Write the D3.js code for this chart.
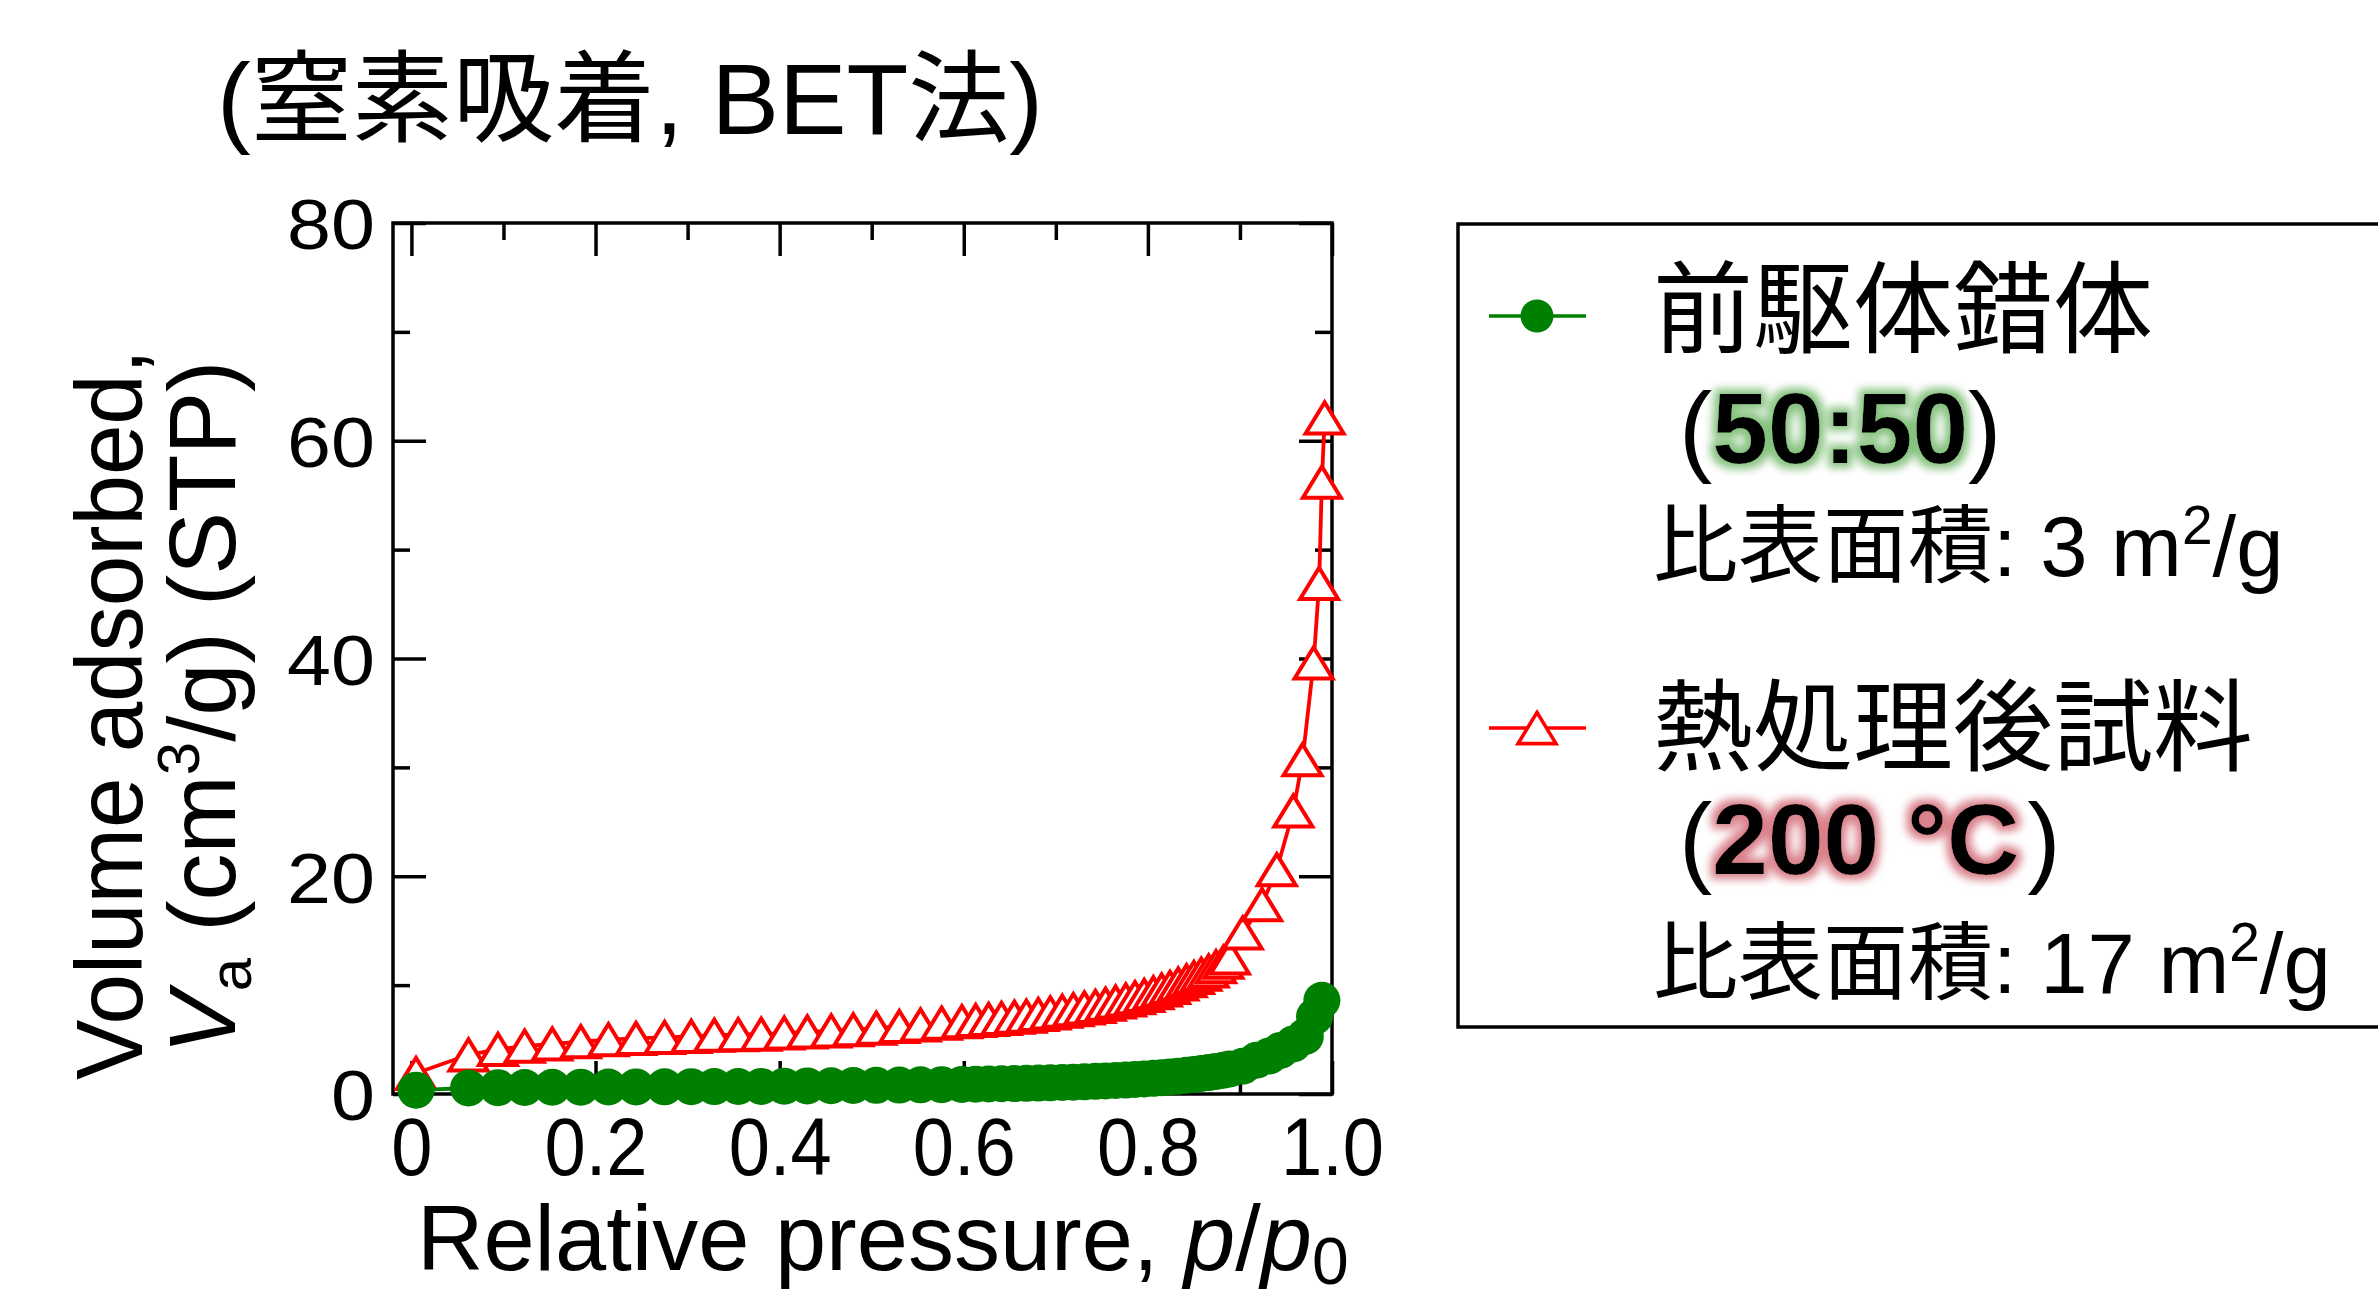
<!DOCTYPE html>
<html>
<head>
<meta charset="utf-8">
<script src="https://cdn.jsdelivr.net/npm/d3@7"></script>
<style>
  html, body { margin: 0; padding: 0; background: #fff; }
  svg { display: block; }
  text { font-family: "Liberation Sans", "Noto Sans CJK JP", sans-serif; fill: #000; }
</style>
</head>
<body>
<svg id="chart" width="2378" height="1297"></svg>
<script>
// ---- axis ticks ----
const xTickValues = [0, 0.2, 0.4, 0.6, 0.8, 1.0];
const xTickLabels = ["0", "0.2", "0.4", "0.6", "0.8", "1.0"];
const xMinorTicks = [0.1, 0.3, 0.5, 0.7, 0.9];
const yTickValues = [0, 20, 40, 60, 80];
const yTickLabels = ["0", "20", "40", "60", "80"];
const yMinorTicks = [10, 30, 50, 70];

// ---- N2 adsorption isotherms (p/p0, cm3/g STP) ----
const precursorP = [0.005, 0.062, 0.094, 0.123, 0.153, 0.184, 0.214, 0.244, 0.275, 0.304,
  0.329, 0.355, 0.380, 0.405, 0.430, 0.456, 0.480, 0.505, 0.530, 0.553,
  0.576, 0.598, 0.613, 0.627, 0.641, 0.655, 0.668, 0.681, 0.694, 0.707,
  0.719, 0.731, 0.743, 0.754, 0.765, 0.776, 0.786, 0.796, 0.806, 0.815,
  0.824, 0.833, 0.842, 0.850, 0.858, 0.866, 0.874, 0.882, 0.889, 0.903,
  0.918, 0.932, 0.944, 0.958, 0.971, 0.981, 0.989];
const precursorV = [0.35, 0.55, 0.58, 0.60, 0.62, 0.63, 0.64, 0.65, 0.66, 0.67,
  0.68, 0.69, 0.70, 0.72, 0.74, 0.76, 0.78, 0.80, 0.82, 0.84,
  0.86, 0.88, 0.90, 0.92, 0.94, 0.96, 0.98, 1.00, 1.03, 1.06,
  1.09, 1.12, 1.16, 1.20, 1.24, 1.28, 1.33, 1.38, 1.44, 1.50,
  1.57, 1.64, 1.72, 1.80, 1.88, 1.97, 2.07, 2.18, 2.30, 2.55,
  3.10, 3.50, 4.00, 4.60, 5.30, 7.10, 8.60];

const annealedP = [0.005, 0.062, 0.094, 0.123, 0.153, 0.184, 0.214, 0.244, 0.275, 0.304,
  0.329, 0.355, 0.380, 0.405, 0.430, 0.456, 0.480, 0.505, 0.530, 0.553,
  0.576, 0.598, 0.613, 0.627, 0.641, 0.655, 0.668, 0.681, 0.694, 0.707,
  0.719, 0.731, 0.743, 0.754, 0.765, 0.776, 0.786, 0.796, 0.806, 0.815,
  0.824, 0.833, 0.842, 0.850, 0.858, 0.866, 0.874, 0.882, 0.889, 0.903,
  0.924, 0.940, 0.958, 0.968, 0.980, 0.986, 0.989, 0.992];
const annealedV = [1.9, 3.6, 4.1, 4.4, 4.6, 4.8, 5.0, 5.1, 5.2, 5.3,
  5.4, 5.45, 5.5, 5.6, 5.7, 5.8, 5.9, 6.05, 6.2, 6.35,
  6.5, 6.65, 6.75, 6.85, 6.95, 7.05, 7.15, 7.3, 7.45, 7.6,
  7.75, 7.9, 8.05, 8.25, 8.45, 8.65, 8.85, 9.05, 9.3, 9.55,
  9.8, 10.1, 10.4, 10.7, 11.0, 11.3, 11.7, 12.1, 12.5, 14.8,
  17.4, 20.6, 26.0, 30.7, 39.6, 46.9, 56.2, 62.1];

// ---- legend text ----
const seriesNames = ["前駆体錯体", "熱処理後試料"];
const seriesTags = ["50:50", "200 °C"];
const surfaceAreas = ["3", "17"];
const greenColor = "#008000";
const redColor = "#ff0000";

const svg = d3.select("#chart");

// glow filters for the highlighted tags
const defs = svg.append("defs");
function glow(id, color, opacity) {
  const f = defs.append("filter").attr("id", id)
    .attr("x", "-20%").attr("y", "-40%").attr("width", "140%").attr("height", "180%");
  f.append("feMorphology").attr("in", "SourceAlpha").attr("operator", "dilate").attr("radius", 5).attr("result", "d");
  f.append("feGaussianBlur").attr("in", "d").attr("stdDeviation", 4.5).attr("result", "b");
  f.append("feFlood").attr("flood-color", color).attr("flood-opacity", opacity);
  f.append("feComposite").attr("in2", "b").attr("operator", "in").attr("result", "g");
  const m = f.append("feMerge");
  m.append("feMergeNode").attr("in", "g");
  m.append("feMergeNode").attr("in", "SourceGraphic");
}
glow("glowGreen", "#86c27f", 1);
glow("glowRed", "#d9808a", 1);

// ---- scales ----
const x = d3.scaleLinear().domain([-0.02, 1.0]).range([393, 1332]);
const y = d3.scaleLinear().domain([0, 80]).range([1094, 223]);

const axisStroke = 3.5;
const majorLen = 33, minorLen = 17;

function styleAxis(g) {
  g.select(".domain").remove();
  g.selectAll("line").attr("stroke", "#000").attr("stroke-width", axisStroke);
  g.attr("font-family", null).attr("font-size", null);
}

// frame
svg.append("rect")
  .attr("x", x.range()[0]).attr("y", y.range()[1])
  .attr("width", x.range()[1] - x.range()[0])
  .attr("height", y.range()[0] - y.range()[1])
  .attr("fill", "none").attr("stroke", "#000").attr("stroke-width", axisStroke);

// bottom axis with labels
const gxb = svg.append("g").attr("transform", `translate(0,${y(0)})`)
  .call(d3.axisBottom(x).tickValues(xTickValues).tickSize(-majorLen)
    .tickFormat((d, i) => xTickLabels[i]))
  .call(styleAxis);
gxb.selectAll("text")
  .attr("y", 0).attr("dy", null)
  .attr("font-size", 78).attr("text-anchor", "middle")
  .attr("transform", "translate(0,81) scale(0.95,1.04)");
svg.append("g").attr("transform", `translate(0,${y(0)})`)
  .call(d3.axisBottom(x).tickValues(xMinorTicks).tickSize(-minorLen).tickFormat(""))
  .call(styleAxis);

// top axis (ticks only)
svg.append("g").attr("transform", `translate(0,${y(80)})`)
  .call(d3.axisTop(x).tickValues(xTickValues).tickSize(-majorLen).tickFormat(""))
  .call(styleAxis);
svg.append("g").attr("transform", `translate(0,${y(80)})`)
  .call(d3.axisTop(x).tickValues(xMinorTicks).tickSize(-minorLen).tickFormat(""))
  .call(styleAxis);

// left axis with labels
const gyl = svg.append("g").attr("transform", `translate(${x.range()[0]},0)`)
  .call(d3.axisLeft(y).tickValues(yTickValues).tickSize(-majorLen)
    .tickFormat((d, i) => yTickLabels[i]))
  .call(styleAxis);
gyl.selectAll("text")
  .attr("x", 0).attr("dy", "0.37em")
  .attr("font-size", 70).attr("text-anchor", "end")
  .attr("transform", "translate(-18,0) scale(1.13,1)");
svg.append("g").attr("transform", `translate(${x.range()[0]},0)`)
  .call(d3.axisLeft(y).tickValues(yMinorTicks).tickSize(-minorLen).tickFormat(""))
  .call(styleAxis);

// right axis (ticks only)
svg.append("g").attr("transform", `translate(${x.range()[1]},0)`)
  .call(d3.axisRight(y).tickValues(yTickValues).tickSize(-majorLen).tickFormat(""))
  .call(styleAxis);
svg.append("g").attr("transform", `translate(${x.range()[1]},0)`)
  .call(d3.axisRight(y).tickValues(yMinorTicks).tickSize(-minorLen).tickFormat(""))
  .call(styleAxis);

// ---- series ----
const triangleUp = {
  draw(ctx, size) {
    const w = size, h = size * 0.82;
    ctx.moveTo(0, -h / 2);
    ctx.lineTo(w / 2, h / 2);
    ctx.lineTo(-w / 2, h / 2);
    ctx.closePath();
  }
};
const triPath = d3.symbol().type(triangleUp).size(38)();

const annealed = annealedP.map((p, i) => ({ p, v: annealedV[i] }));
const precursor = precursorP.map((p, i) => ({ p, v: precursorV[i] }));
const line = d3.line().x(d => x(d.p)).y(d => y(d.v));

// heat-treated sample: red line, open triangles
svg.append("path").datum(annealed)
  .attr("d", line).attr("fill", "none")
  .attr("stroke", redColor).attr("stroke-width", 3.8);
svg.append("g").selectAll("path").data(annealed).join("path")
  .attr("transform", d => `translate(${x(d.p)},${y(d.v)})`)
  .attr("d", triPath)
  .attr("fill", "#fff").attr("stroke", redColor).attr("stroke-width", 4)
  .attr("stroke-linejoin", "miter");

// precursor complex: green line, filled circles
svg.append("path").datum(precursor)
  .attr("d", line).attr("fill", "none")
  .attr("stroke", greenColor).attr("stroke-width", 3.8);
svg.append("g").selectAll("circle").data(precursor).join("circle")
  .attr("cx", d => x(d.p)).attr("cy", d => y(d.v)).attr("r", 18.5)
  .attr("fill", greenColor);

// ---- titles ----
svg.append("text")
  .attr("x", 217).attr("y", 134).attr("font-size", 100)
  .attr("textLength", 826).attr("lengthAdjust", "spacingAndGlyphs")
  .text("(窒素吸着, BET法)");

const xt = svg.append("text").attr("x", 417).attr("y", 1270).attr("font-size", 92);
xt.append("tspan").text("Relative pressure, ");
xt.append("tspan").attr("font-style", "italic").text("p");
xt.append("tspan").text("/");
xt.append("tspan").attr("font-style", "italic").text("p");
xt.append("tspan").attr("font-size", 66).attr("dy", 14).text("0");

svg.append("text")
  .attr("transform", "translate(142,1080) rotate(-90)")
  .attr("font-size", 94).attr("textLength", 731).attr("lengthAdjust", "spacingAndGlyphs")
  .text("Volume adsorbed,");
const yt2 = svg.append("text")
  .attr("transform", "translate(235,1054) rotate(-90)")
  .attr("font-size", 94);
yt2.append("tspan").attr("font-style", "italic").text("V");
yt2.append("tspan").attr("font-size", 60).attr("dy", 16).text("a");
yt2.append("tspan").attr("dy", -16).text(" (cm");
yt2.append("tspan").attr("font-size", 60).attr("dy", -36).text("3");
yt2.append("tspan").attr("dy", 36).text("/g) (STP)");

// ---- legend ----
const lg = svg.append("g");
lg.append("rect").attr("x", 1458).attr("y", 224).attr("width", 1000).attr("height", 803)
  .attr("fill", "none").attr("stroke", "#000").attr("stroke-width", axisStroke);

const legendRows = [
  { y: 316, color: greenColor, marker: "circle", nameY: 345, tagY: 463, areaY: 576,
    glow: "glowGreen", tagGap: 0 },
  { y: 728, color: redColor, marker: "triangle", nameY: 763, tagY: 874, areaY: 993,
    glow: "glowRed", tagGap: 8 }
];
legendRows.forEach((r, i) => {
  lg.append("line").attr("x1", 1489).attr("x2", 1586).attr("y1", r.y).attr("y2", r.y)
    .attr("stroke", r.color).attr("stroke-width", 3.5);
  if (r.marker === "circle") {
    lg.append("circle").attr("cx", 1537).attr("cy", r.y).attr("r", 16.5).attr("fill", r.color);
  } else {
    lg.append("path").attr("transform", `translate(1537,${r.y})`).attr("d", triPath)
      .attr("fill", "#fff").attr("stroke", r.color).attr("stroke-width", 3.6);
  }
  lg.append("text").attr("x", 1653).attr("y", r.nameY).attr("font-size", 100).text(seriesNames[i]);

  // "(tag)" with highlighted bold tag
  let cx = 1679;
  const open = lg.append("text").attr("x", cx).attr("y", r.tagY).attr("font-size", 100).text("(");
  cx += open.node().getComputedTextLength();
  const tag = lg.append("text").attr("x", cx).attr("y", r.tagY).attr("font-size", 100)
    .attr("font-weight", "bold").attr("filter", `url(#${r.glow})`).text(seriesTags[i]);
  cx += tag.node().getComputedTextLength() + r.tagGap;
  lg.append("text").attr("x", cx).attr("y", r.tagY).attr("font-size", 100).text(")");

  const a = lg.append("text").attr("x", 1653).attr("y", r.areaY).attr("font-size", 85);
  a.append("tspan").text(`比表面積: ${surfaceAreas[i]} m`);
  a.append("tspan").attr("font-size", 55).attr("dy", -32).text("2");
  a.append("tspan").attr("dy", 32).text("/g");
});
</script>
</body>
</html>
